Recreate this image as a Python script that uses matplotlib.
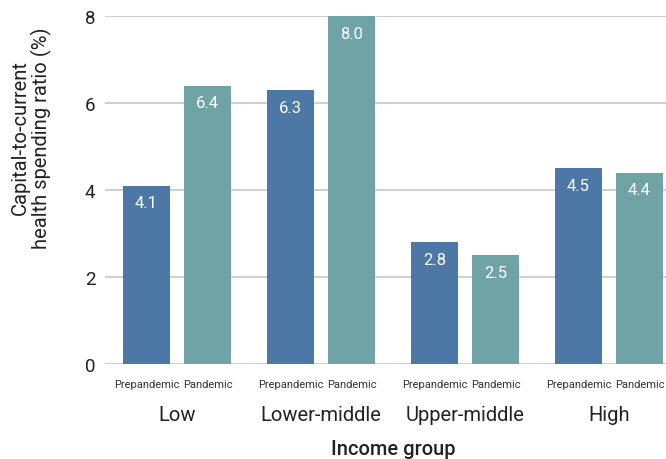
import numpy as np
import matplotlib.pyplot as plt

groups = ["Low", "Lower-middle", "Upper-middle", "High"]
prepandemic = [4.1, 6.3, 2.8, 4.5]
pandemic = [6.4, 8.0, 2.5, 4.4]
series_names = ["Prepandemic", "Pandemic"]

blue = "#4d77a5"
teal = "#6fa3a5"
grid = "#d0d0d0"
txt = "#222222"

plt.rcParams['font.family'] = ['Roboto', 'DejaVu Sans']

fig = plt.figure(figsize=(6.66, 4.6), dpi=100)
ax = fig.add_axes([0.1577, 0.2065, 0.8423, 0.7565])

x = np.arange(len(groups))
off = 0.212
w = 0.326
b1 = ax.bar(x - off, prepandemic, w, color=blue, zorder=3)
b2 = ax.bar(x + off, pandemic, w, color=teal, zorder=3)

for bars, vals in ((b1, prepandemic), (b2, pandemic)):
    for r, v in zip(bars, vals):
        ax.text(r.get_x() + r.get_width() / 2, v - 0.22, f"{v:.1f}",
                ha="center", va="top", color="white", fontsize=12, zorder=4)

ax.set_ylim(0, 8)
ax.set_xlim(-0.5, 3.396)
ax.set_yticks([0, 2, 4, 6, 8])
ax.yaxis.grid(True, color=grid, linewidth=1.5, zorder=0)
ax.tick_params(axis="y", length=0, pad=7, labelsize=13.5, labelcolor=txt)
ax.set_xticks([])
for s in ax.spines.values():
    s.set_visible(False)

for i in range(len(groups)):
    ax.text(i - off, -0.35, series_names[0], ha="center", va="top",
            fontsize=8, color="#333333")
    ax.text(i + off, -0.35, series_names[1], ha="center", va="top",
            fontsize=8, color="#333333")
    ax.text(i, -0.95, groups[i], ha="center", va="top", fontsize=14.5, color=txt)

ax.text(1.5, -1.72, "Income group", ha="center", va="top", fontsize=14.5,
        color=txt, fontweight="medium")
fig.text(0.047, 0.70, "Capital-to-current\nhealth spending ratio (%)", rotation=90,
         ha="center", va="center", fontsize=14.5, color=txt, linespacing=1.05)

fig.savefig("out.png", dpi=100)
